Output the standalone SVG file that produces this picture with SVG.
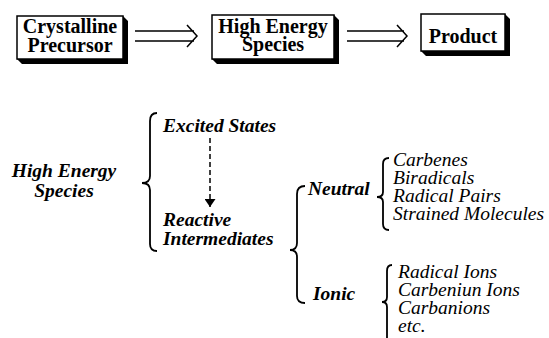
<svg xmlns="http://www.w3.org/2000/svg" width="549" height="338" viewBox="0 0 549 338">
<defs>
<style>
.box{fill:#fff;stroke:#000;stroke-width:1.5}
.sh{fill:#000}
.bt{font-family:"Liberation Serif","Times New Roman",serif;font-weight:bold;font-size:20px;fill:#000}
.bi{font-family:"Liberation Serif","Times New Roman",serif;font-weight:bold;font-style:italic;font-size:19.5px;fill:#000}
.it{font-family:"Liberation Serif","Times New Roman",serif;font-style:italic;font-size:19.5px;fill:#000}
.ln{fill:none;stroke:#000;stroke-width:1.5}
.br{fill:none;stroke:#000;stroke-width:1.8}
</style>
<marker id="ah" markerWidth="8" markerHeight="11" refX="8" refY="5.5" orient="auto" markerUnits="userSpaceOnUse">
<path d="M0,0 L8,5.5 L0,11 Z" fill="#000"/>
</marker>
</defs>
<rect width="549" height="338" fill="#fff"/>
<g id="node-crystalline">
<polygon class="sh" points="123,16 128,21 128,64 22,64 17,59 123,59"/>
<rect class="box" x="17" y="16" width="106" height="43"/>
<text class="bt" x="70" y="33" text-anchor="middle">Crystalline</text>
<text class="bt" x="70" y="52" text-anchor="middle">Precursor</text>
</g>
<g id="node-high-energy">
<polygon class="sh" points="334,15 339,20 339,64 217,64 212,59 334,59"/>
<rect class="box" x="212" y="15" width="122" height="44"/>
<text class="bt" x="273" y="33" text-anchor="middle">High Energy</text>
<text class="bt" x="273" y="51" text-anchor="middle">Species</text>
</g>
<g id="node-product">
<polygon class="sh" points="505,14 510,19 510,56 426,56 421,51 505,51"/>
<rect class="box" x="421" y="14" width="84" height="37"/>
<text class="bt" x="463" y="43" text-anchor="middle">Product</text>
</g>
<g id="connectors">
<path class="ln" d="M135,31 H194 M135,41 H194 M187,25 L197,36 L187,47"/>
<path class="ln" d="M347,31 H404 M347,41 H404 M397,25 L407,36 L397,47"/>
<path class="ln" d="M210,138 V207" stroke-dasharray="5,3" marker-end="url(#ah)"/>
</g>
<g id="label-high-energy-species">
<text class="bi" x="64" y="177" text-anchor="middle">High Energy</text>
<text class="bi" x="64" y="197" text-anchor="middle">Species</text>
</g>
<g id="brace-1">
<path class="br" d="M157,113 Q150,113 150,121 L150,176 Q150,183 142,183 Q150,183 150,190 L150,244 Q150,251 157,251"/>
</g>
<g id="node-excited">
<text class="bi" x="163" y="132">Excited States</text>
</g>
<g id="node-reactive">
<text class="bi" x="163" y="226">Reactive</text>
<text class="bi" x="163" y="245">Intermediates</text>
</g>
<g id="brace-2">
<path class="br" d="M305,186 Q297,186 297,194 L297,243 Q297,250 290,250 Q297,250 297,257 L297,296 Q297,303 305,303"/>
</g>
<g id="node-neutral">
<text class="bi" x="308" y="195">Neutral</text>
</g>
<g id="node-ionic">
<text class="bi" x="313" y="300">Ionic</text>
</g>
<g id="brace-3">
<path class="br" d="M389,158 Q383,158 383,164 L383,192 Q383,197 377,197 Q383,197 383,202 L383,224 Q383,230 389,230"/>
</g>
<g id="node-neutral-list">
<text class="it" x="393" y="166">Carbenes</text>
<text class="it" x="393" y="184">Biradicals</text>
<text class="it" x="393" y="202">Radical Pairs</text>
<text class="it" x="393" y="220">Strained Molecules</text>
</g>
<g id="brace-4">
<path class="br" d="M392,265 Q387,265 387,271 L387,297 Q387,302 382,302 Q387,302 387,307 L387,345"/>
</g>
<g id="node-ionic-list">
<text class="it" x="398" y="278">Radical Ions</text>
<text class="it" x="398" y="296">Carbeniun Ions</text>
<text class="it" x="398" y="314">Carbanions</text>
<text class="it" x="398" y="332">etc.</text>
</g>
</svg>
